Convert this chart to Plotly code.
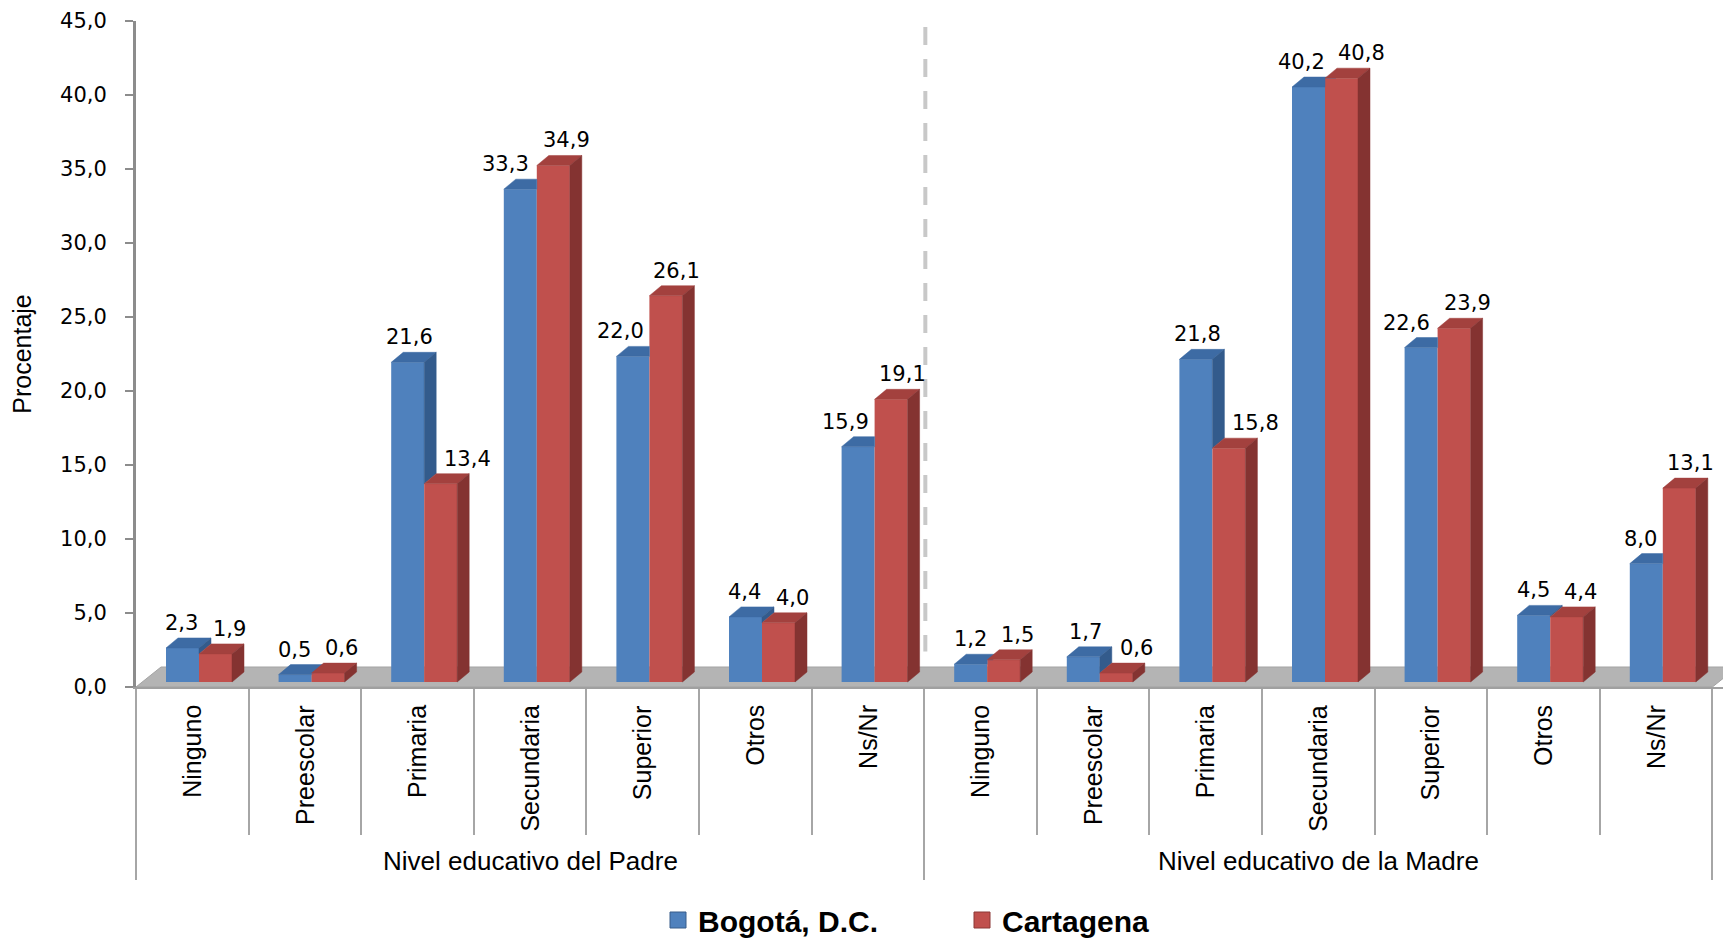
import plotly.graph_objects as go

# ---------------- data ----------------
categories = ["Ninguno", "Preescolar", "Primaria", "Secundaria", "Superior", "Otros", "Ns/Nr"]
groups = ["Nivel educativo del Padre", "Nivel educativo de la Madre"]
series_names = ["Bogotá, D.C.", "Cartagena"]
bogota_padre = [2.3, 0.5, 21.6, 33.3, 22.0, 4.4, 15.9]
cartagena_padre = [1.9, 0.6, 13.4, 34.9, 26.1, 4.0, 19.1]
bogota_madre = [1.2, 1.7, 21.8, 40.2, 22.6, 4.5, 8.0]
cartagena_madre = [1.5, 0.6, 15.8, 40.8, 23.9, 4.4, 13.1]
y_tick_values = [0, 5, 10, 15, 20, 25, 30, 35, 40, 45]
y_title = "Procentaje"

# ---------------- style / geometry ----------------
BLUE_FRONT, BLUE_TOP, BLUE_SIDE, BLUE_EDGE = "#4F81BD", "#3D6BA4", "#335B8C", "#385D8A"
RED_FRONT, RED_TOP, RED_SIDE, RED_EDGE = "#C0504D", "#A3413E", "#843331", "#8C3836"

PAGE_W, PAGE_H = 1731, 938
BODY = 8                          # default page margin around the plot div
FIG_W, FIG_H = PAGE_W - BODY, PAGE_H - BODY
PLOT_LEFT, PLOT_TOP, PLOT_BOTTOM = 136, 21, 687   # in page pixels
M_L = PLOT_LEFT - BODY
M_T = PLOT_TOP - BODY
M_B = FIG_H - (PLOT_BOTTOM - BODY)
M_R = 0
PLOT_H = PLOT_BOTTOM - PLOT_TOP
PLOT_W = FIG_W - M_L - M_R
Y_MAX = 45
PX_PER_Y = PLOT_H / Y_MAX
CAT_PX = 112.6
X_MIN = -0.5
X_MAX = X_MIN + PLOT_W / CAT_PX

BAR_W = 33 / CAT_PX          # front face width
BAR_OFF = 30 / CAT_PX        # from category left edge
DX = 12 / CAT_PX             # 3D depth (x)
DY = 10 / PX_PER_Y           # 3D depth (y)
B0 = 5 / PX_PER_Y            # bars stand inside the floor
FLOOR_DY = 20 / PX_PER_Y
FLOOR_DX = 25 / CAT_PX
LABEL_FONT = 21
LABEL_H = 24 / PX_PER_Y

bog = bogota_padre + bogota_madre
car = cartagena_padre + cartagena_madre
n = len(bog)
ncat = len(categories)


def fmt(v):
    return f"{v:.1f}".replace(".", ",")


def label_w(v):
    s = fmt(v)
    digits = sum(ch.isdigit() for ch in s)
    return LABEL_FONT * (0.636 * digits + 0.318) / CAT_PX


def add_poly(xs, ys, pts):
    for a, b in pts + [pts[0]]:
        xs.append(a)
        ys.append(b)
    xs.append(None)
    ys.append(None)


def paper_y(page_px):
    return (PLOT_BOTTOM - page_px) / PLOT_H


def paper_x(page_px):
    return (page_px - PLOT_LEFT) / PLOT_W


blue_x, red_x = [], []
bt_x, bt_y, bs_x, bs_y, rt_x, rt_y, rs_x, rs_y = ([] for _ in range(8))
annotations = []

for i in range(n):
    vb, vr = bog[i], car[i]
    xL = i - 0.5 + BAR_OFF
    xR = xL + BAR_W
    xR2 = xR + BAR_W
    tB, tR = vb + B0, vr + B0
    blue_x.append(xL + BAR_W / 2)
    red_x.append(xR + BAR_W / 2)

    # blue top face (clipped where the red bar is in front)
    if tR <= tB:
        pts = [(xL, tB), (xR, tB), (xR + DX, tB + DY), (xL + DX, tB + DY)]
    elif tR < tB + DY:
        px = xR + DX * (tR - tB) / DY
        pts = [(xL, tB), (xR, tB), (xR, tR), (px, tR), (xR + DX, tB + DY), (xL + DX, tB + DY)]
    else:
        pts = [(xL, tB), (xR, tB), (xR, tB + DY), (xL + DX, tB + DY)]
    add_poly(bt_x, bt_y, pts)
    # blue side face (visible only above the red bar)
    if tB > tR:
        add_poly(bs_x, bs_y, [(xR, tR), (xR, tB), (xR + DX, tB + DY), (xR + DX, tR + DY)])
    # red top / side
    add_poly(rt_x, rt_y, [(xR, tR), (xR2, tR), (xR2 + DX, tR + DY), (xR + DX, tR + DY)])
    add_poly(rs_x, rs_y, [(xR2, B0), (xR2, tR), (xR2 + DX, tR + DY), (xR2 + DX, B0 + DY)])

    # data labels (placed above the 3D tops, avoiding collisions)
    wb, wr = label_w(vb), label_w(vr)
    cb = xL + BAR_W / 2 + DX / 2 - 4 / CAT_PX
    cr = xR + BAR_W / 2 + DX / 2 + 5 / CAT_PX
    gap = 0.88
    if tR > tB + gap:
        cb = min(cb, xR - 6 / CAT_PX - wb / 2)
    if tB > tR + gap:
        cr = max(cr, xR + DX + 8 / CAT_PX + wr / 2)
    if abs(tB - tR) < LABEL_H:
        need = (wb + wr) / 2 + 14 / CAT_PX
        if cr - cb < need:
            push = (need - (cr - cb)) / 2
            cb -= push
            cr += push
    for c, t, v in ((cb, tB, vb), (cr, tR, vr)):
        annotations.append(dict(
            x=c, y=t + DY, xref="x", yref="y", text=fmt(v), showarrow=False,
            yanchor="bottom", xanchor="center", yshift=1,
            font=dict(family="DejaVu Sans", size=LABEL_FONT, color="#000000")))

fig = go.Figure()
fig.add_trace(go.Bar(x=blue_x, y=bog, base=B0, width=BAR_W, name=series_names[0],
                     marker=dict(color=BLUE_FRONT, line=dict(width=0)),
                     showlegend=False, hoverinfo="skip"))
fig.add_trace(go.Bar(x=red_x, y=car, base=B0, width=BAR_W, name=series_names[1],
                     marker=dict(color=RED_FRONT, line=dict(width=0)),
                     showlegend=False, hoverinfo="skip"))

for xs, ys, col in ((bt_x, bt_y, BLUE_TOP), (bs_x, bs_y, BLUE_SIDE),
                    (rt_x, rt_y, RED_TOP), (rs_x, rs_y, RED_SIDE)):
    if xs:
        fig.add_trace(go.Scatter(x=xs, y=ys, mode="lines", fill="toself", fillcolor=col,
                                 line=dict(color=col, width=0.5), hoverinfo="skip",
                                 showlegend=False))

# legend entries
for name, col, edge in ((series_names[0], BLUE_FRONT, BLUE_EDGE), (series_names[1], RED_FRONT, RED_EDGE)):
    fig.add_trace(go.Scatter(x=[None], y=[None], mode="markers", name=name,
                             marker=dict(symbol="square", size=16, color=col,
                                         line=dict(color=edge, width=1))))

# category labels
for i in range(n):
    annotations.append(dict(
        x=i, xref="x", y=paper_y(703), yref="paper", text=categories[i % ncat],
        textangle=-90, showarrow=False, xanchor="center", yanchor="top",
        font=dict(family="Liberation Sans", size=25, color="#000000")))
for g, name in enumerate(groups):
    annotations.append(dict(
        x=g * ncat + (ncat - 1) / 2, xref="x", y=paper_y(861), yref="paper",
        text=name, showarrow=False, xanchor="center", yanchor="middle",
        font=dict(family="Liberation Sans", size=26, color="#000000")))

boundaries = [i - 0.5 for i in range(n + 1)]
group_bounds = [g * ncat - 0.5 for g in range(len(groups) + 1)]

shapes = [
    dict(type="path", xref="x", yref="y", layer="below",
         path=(f"M {X_MIN},0 L {boundaries[-1]},0 L {boundaries[-1] + FLOOR_DX},{FLOOR_DY} "
               f"L {X_MIN + FLOOR_DX},{FLOOR_DY} Z"),
         fillcolor="#B4B4B4", line=dict(color="#A3A3A3", width=1)),
    dict(type="line", xref="x", yref="y", layer="below",
         x0=group_bounds[1] + 0.01, x1=group_bounds[1] + 0.01, y0=44.6, y1=2.4,
         line=dict(color="#C8C8C8", width=4, dash="18px,14px")),
]

fig.update_layout(
    width=FIG_W, height=FIG_H,
    margin=dict(l=M_L, r=M_R, t=M_T, b=M_B, autoexpand=False),
    paper_bgcolor="white", plot_bgcolor="white",
    separators=",.",
    barmode="overlay",
    showlegend=True,
    legend=dict(orientation="h", x=paper_x(658), xanchor="left",
                y=paper_y(920), yanchor="middle",
                entrywidth=259, itemsizing="trace",
                font=dict(family="Liberation Sans", size=30, color="#000000", weight="bold"),
                bgcolor="rgba(0,0,0,0)"),
    xaxis=dict(range=[X_MIN, X_MAX], showgrid=False, zeroline=False, showticklabels=False,
               showline=True, linecolor="#A0A0A0", linewidth=1.5,
               tickmode="array", tickvals=group_bounds, ticks="outside", ticklen=191,
               tickcolor="#A6A6A6", tickwidth=1.5,
               minor=dict(tickmode="array", tickvals=boundaries, ticks="outside", ticklen=146,
                          tickcolor="#A6A6A6", tickwidth=1.5),
               automargin=False, fixedrange=True),
    yaxis=dict(range=[0, Y_MAX], showgrid=False, zeroline=False,
               tickmode="array", tickvals=y_tick_values, tickformat=".1f",
               ticks="outside", ticklen=8, tickwidth=2, tickcolor="#8C8C8C",
               showline=True, linecolor="#8C8C8C", linewidth=3,
               tickfont=dict(family="DejaVu Sans", size=21, color="#000000"),
               ticklabelstandoff=14,
               title=dict(text=y_title, standoff=22,
                          font=dict(family="Liberation Sans", size=25, color="#000000")),
               automargin=False, fixedrange=True),
    annotations=annotations,
    shapes=shapes,
)

fig.write_html("out.html")
